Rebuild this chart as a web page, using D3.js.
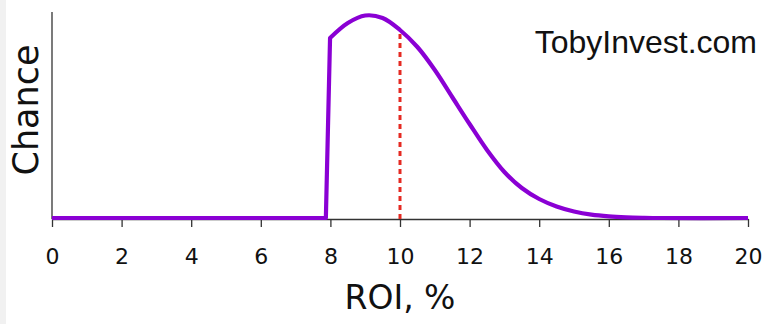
<!DOCTYPE html>
<html>
<head>
<meta charset="utf-8">
<script src="https://cdn.jsdelivr.net/npm/d3@7"></script>
<style>
  html, body { margin: 0; padding: 0; background: #fff; }
  svg { display: block; }
</style>
</head>
<body>
<svg id="chart" width="768" height="324"></svg>
<script>
// ROI distribution (relative chance) sampled along the x axis
const roi    = [0, 7.87, 7.99, 8.5, 9.0,   9.5, 10.0, 10.5, 11.0, 11.5, 12.0, 12.5, 13.0, 13.5, 14.0, 14.5, 15.0, 15.5, 16.0, 16.5, 17.0, 17.5, 20];
const chance = [0, 0,    180,  195, 202.5, 200, 188,  171,  148,  121,  94,   68,   46,   30,   19,   11.5, 6.5,  3.3,  1.6,  0.7,  0.25, 0,    0];
const xTicks = [0, 2, 4, 6, 8, 10, 12, 14, 16, 18, 20];
const expectedRoi = 10;

const svg = d3.select("#chart");
const H = 324;

const x = d3.scaleLinear().domain([0, 20]).range([52, 748]);
const y = d3.scaleLinear().domain([0, 210]).range([218, 8]);
const axisY = 219;

// faint strip along the left edge
svg.append("rect").attr("x", 0).attr("y", 0).attr("width", 6).attr("height", H).attr("fill", "#f1f1f1");

// x axis
const xAxis = d3.axisBottom(x).tickValues(xTicks).tickSize(8).tickSizeOuter(0);
const gx = svg.append("g").attr("transform", `translate(0,${axisY})`).call(xAxis);
gx.select(".domain").attr("stroke", "#333").attr("stroke-width", 1.3);
gx.selectAll(".tick line").attr("stroke", "#333").attr("stroke-width", 1.3);
gx.selectAll(".tick text")
  .attr("y", 45)
  .attr("dy", null)
  .attr("fill", "#111")
  .style("font-family", "'DejaVu Sans', sans-serif")
  .style("font-size", "22px");

// y axis line (no ticks)
svg.append("line")
  .attr("x1", x(0)).attr("x2", x(0))
  .attr("y1", 12).attr("y2", axisY)
  .attr("stroke", "#333").attr("stroke-width", 1.3);

// distribution curve: straight flat run and jump, then a smooth density
const pts = roi.map((r, i) => [r, chance[i]]);
const jumpIdx = 2; // index where the density starts (top of the jump)
const straight = d3.line().x(d => x(d[0])).y(d => y(d[1]));
const smooth = d3.line().x(d => x(d[0])).y(d => y(d[1])).curve(d3.curveCatmullRom.alpha(0.5));
const pathD = straight(pts.slice(0, jumpIdx + 1)) + smooth(pts.slice(jumpIdx)).replace(/^M/, "L");

// dashed marker at the expected ROI, up to the curve
const iExp = roi.indexOf(expectedRoi);
svg.append("line")
  .attr("x1", x(expectedRoi)).attr("x2", x(expectedRoi))
  .attr("y1", axisY).attr("y2", y(chance[iExp]))
  .attr("stroke", "#e52a22").attr("stroke-width", 3)
  .attr("stroke-dasharray", "5,4");

svg.append("path")
  .attr("d", pathD)
  .attr("fill", "none")
  .attr("stroke", "#8a00d4")
  .attr("stroke-width", 4.2)
  .attr("stroke-linejoin", "round");

// axis titles
svg.append("text")
  .attr("x", x(10)).attr("y", 309)
  .attr("text-anchor", "middle")
  .style("font-family", "'DejaVu Sans', sans-serif")
  .style("font-size", "33px")
  .attr("fill", "#111")
  .text("ROI, %");

svg.append("text")
  .attr("transform", "translate(38,110) rotate(-90)")
  .attr("text-anchor", "middle")
  .style("font-family", "'DejaVu Sans', sans-serif")
  .style("font-size", "35px")
  .attr("fill", "#111")
  .text("Chance");

// site label
svg.append("text")
  .attr("x", 757).attr("y", 53)
  .attr("text-anchor", "end")
  .style("font-family", "'Liberation Sans', Arial, sans-serif")
  .style("font-size", "32px")
  .attr("fill", "#111")
  .text("TobyInvest.com");
</script>
</body>
</html>
